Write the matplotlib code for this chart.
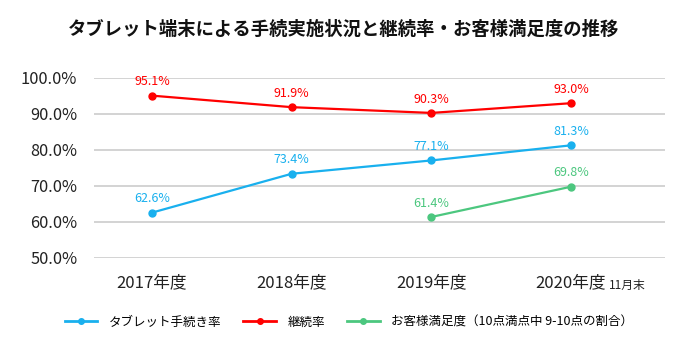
import matplotlib
matplotlib.use("Agg")
import matplotlib.pyplot as plt
from matplotlib.lines import Line2D

plt.rcParams["font.family"] = ["Noto Sans CJK JP", "DejaVu Sans"]

# data
years = ["2017年度", "2018年度", "2019年度", "2020年度"]
tablet_rate = [62.6, 73.4, 77.1, 81.3]
retention = [95.1, 91.9, 90.3, 93.0]
sat_x = [2, 3]
sat_vals = [61.4, 69.8]

blue = "#19b0ee"
red = "#ff0000"
green = "#4cc77f"

fig = plt.figure(figsize=(6.88, 3.45), dpi=100)
ax = fig.add_axes([94/688, 87/345, (665-94)/688, 180/345])

ax.set_xlim(-0.415, 3.673)
ax.set_ylim(50, 100)
ax.set_yticks([50, 60, 70, 80, 90, 100])
ax.set_yticklabels([f"{v:.1f}%" for v in [50, 60, 70, 80, 90, 100]], fontsize=11.8)
ax.grid(axis="y", color="#d0d0d0", linewidth=1.3)
ax.set_axisbelow(True)
for s in ax.spines.values():
    s.set_visible(False)
ax.tick_params(axis="y", length=0, pad=12, labelcolor="#222222")
ax.tick_params(axis="x", length=0, pad=12, labelcolor="#222222")
ax.set_xticks(range(len(years)))
ax.set_xticklabels(years, fontsize=12)

x = list(range(len(years)))
ax.plot(x, tablet_rate, "-o", color=blue, lw=1.6, ms=5, clip_on=False, zorder=3)
ax.plot(x, retention, "-o", color=red, lw=1.6, ms=5, clip_on=False, zorder=3)
ax.plot(sat_x, sat_vals, "-o", color=green, lw=1.6, ms=5, clip_on=False, zorder=3)

def labels(xs, ys, c):
    for xi, yi in zip(xs, ys):
        ax.annotate(f"{yi:.1f}%", (xi, yi), xytext=(0, 10), textcoords="offset points",
                    ha="center", va="center", fontsize=9, color=c, zorder=4)

labels(x, tablet_rate, blue)
labels(x, retention, red)
labels(sat_x, sat_vals, green)

# "11月末" note after the 2020 label
fig.text(609/688, 1 - 289/345, "11月末", fontsize=8.5, color="#222222", ha="left", va="baseline")

fig.text(0.5, 1 - 29/345, "タブレット端末による手続実施状況と継続率・お客様満足度の推移",
         ha="center", va="center", fontsize=13.2, fontweight="bold", color="#111111")

handles = [
    Line2D([], [], color=blue, lw=2, marker="o", ms=4),
    Line2D([], [], color=red, lw=2, marker="o", ms=4),
    Line2D([], [], color=green, lw=2, marker="o", ms=4),
]
names = ["タブレット手続き率", "継続率", "お客様満足度（10点満点中 9-10点の割合）"]
fig.legend(handles, names, loc="center", bbox_to_anchor=(0.507, 1 - 322/345), ncol=3,
           frameon=False, fontsize=9, handlelength=2.6, columnspacing=1.8, handletextpad=0.9)

fig.savefig("out.png", dpi=100)
